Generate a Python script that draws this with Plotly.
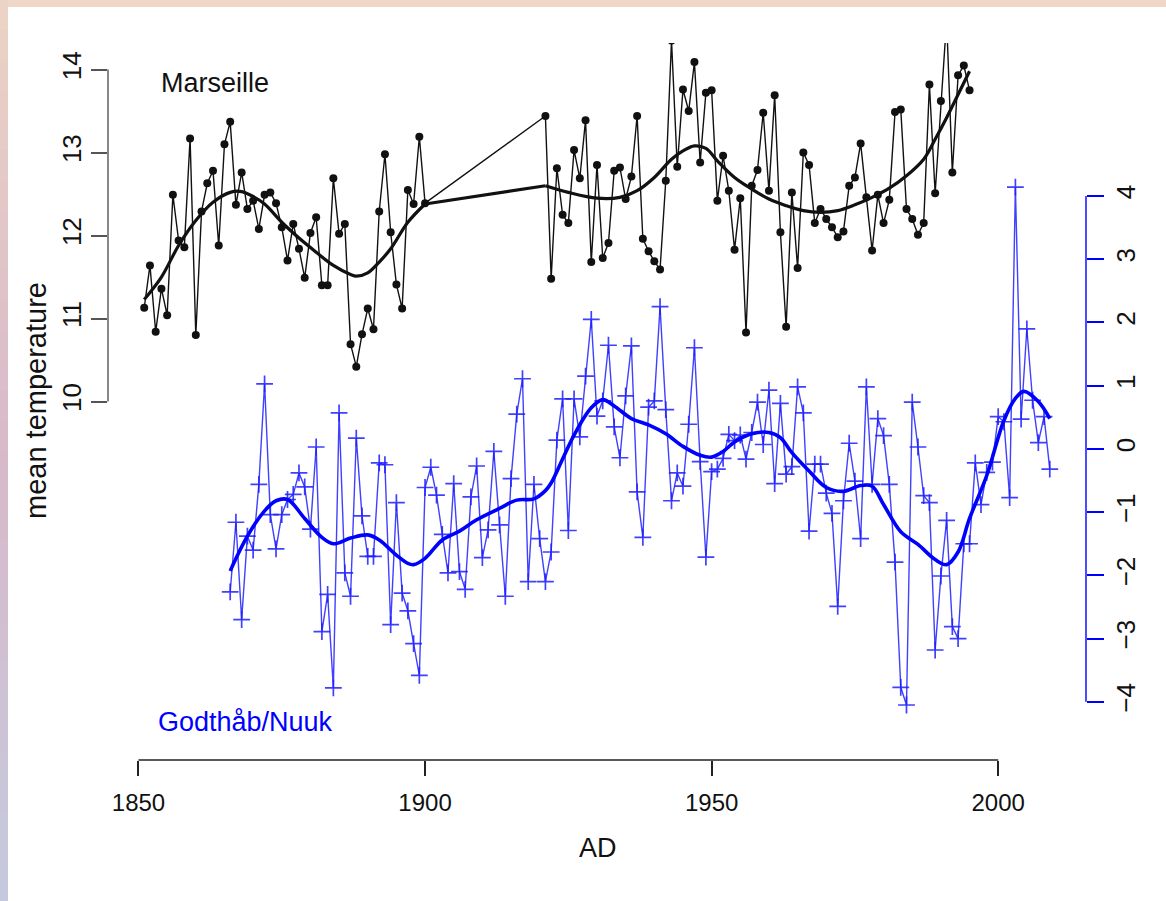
import plotly.graph_objects as go

# ---------------- data ----------------
mars_years_a = list(range(1851, 1901))
mars_vals_a = [11.13, 11.64, 10.84, 11.36, 11.04, 12.49, 11.94, 11.86, 13.17, 10.80,
               12.29, 12.63, 12.78, 11.88, 13.10, 13.37, 12.37, 12.76, 12.32, 12.42,
               12.08, 12.49, 12.52, 12.39, 12.10, 11.70, 12.14, 11.84, 11.49, 12.03,
               12.22, 11.40, 11.40, 12.69, 12.02, 12.14, 10.69, 10.42, 10.81, 11.12,
               10.87, 12.29, 12.98, 12.04, 11.41, 11.12, 12.55, 12.38, 13.19, 12.39]
mars_years_b = list(range(1921, 1996))
mars_vals_b = [13.44, 11.48, 12.81, 12.25, 12.15, 13.03, 12.69, 13.39, 11.68, 12.85,
               11.73, 11.91, 12.78, 12.82, 12.44, 12.71, 13.44, 11.96, 11.81, 11.69,
               11.59, 12.66, 14.35, 12.83, 13.76, 13.50, 14.09, 12.88, 13.72, 13.75,
               12.42, 12.96, 12.54, 11.83, 12.45, 10.83, 12.60, 12.79, 13.48, 12.54,
               13.69, 12.04, 10.90, 12.52, 11.61, 13.00, 12.85, 12.15, 12.32, 12.20,
               12.10, 11.98, 12.05, 12.60, 12.70, 13.11, 12.46, 11.82, 12.49, 12.15,
               12.43, 13.49, 13.52, 12.32, 12.20, 12.01, 12.15, 13.82, 12.51, 13.62,
               14.60, 12.76, 13.93, 14.05, 13.75]

mars_smooth_years_a = [1851, 1854, 1857, 1860, 1863, 1866, 1868, 1870, 1872, 1875, 1878,
                       1881, 1884, 1887, 1888, 1890, 1892, 1894, 1897, 1900]
mars_smooth_vals_a = [11.23, 11.50, 11.88, 12.18, 12.40, 12.52, 12.53, 12.47, 12.38, 12.16, 11.97,
                      11.80, 11.64, 11.53, 11.51, 11.55, 11.68, 11.84, 12.16, 12.38]
mars_smooth_years_b = [1921, 1925, 1930, 1934, 1937, 1940, 1943, 1945, 1947, 1949, 1951, 1954,
                       1957, 1960, 1963, 1966, 1969, 1972, 1975, 1978, 1981, 1984, 1987,
                       1989, 1991, 1993, 1995]
mars_smooth_vals_b = [12.60, 12.52, 12.45, 12.46, 12.54, 12.70, 12.92, 13.02, 13.08, 13.05, 12.90, 12.70,
                      12.56, 12.44, 12.36, 12.30, 12.28, 12.30, 12.37, 12.46, 12.57, 12.72, 12.92,
                      13.16, 13.42, 13.70, 13.98]

nuuk_years = list(range(1866, 2010))
nuuk_vals = [-2.26, -1.16, -2.70, -1.38, -1.60, -0.56, 1.03, -1.04, -1.58, -1.04,
             -0.80, -0.72, -0.38, -0.60, -1.27, 0.03, -2.89, -2.30, -3.78, 0.57,
             -1.96, -2.33, 0.17, -1.06, -1.70, -1.70, -0.22, -0.25, -2.78, -0.85,
             -2.28, -2.56, -3.08, -3.58, -0.61, -0.29, -0.73, -1.35, -1.96, -0.55,
             -1.94, -2.22, -0.76, -0.27, -1.72, -1.28, -0.04, -1.20, -2.33, -0.47,
             0.55, 1.11, -2.10, -0.56, -1.42, -2.10, -1.63, 0.14, 0.79, -1.29,
             0.79, 0.19, 1.15, 2.05, 0.52, 0.76, 1.64, 0.35, -0.14, 0.84,
             1.63, -0.68, -1.40, 0.66, 0.76, 2.25, 0.62, -0.82, -0.38, -0.59,
             0.39, 1.60, -0.20, -1.71, -0.36, -0.32, -0.15, 0.23, 0.13, 0.22,
             -0.16, 0.26, 0.74, 0.07, 0.93, -0.55, 0.72, -0.40, -0.28, 0.98,
             0.57, -1.30, -0.24, -0.24, -0.70, -1.02, -2.49, -0.82, 0.09, -0.51,
             -1.42, 0.98, -0.56, 0.48, 0.21, -0.56, -1.79, -3.77, -4.05, 0.74,
             0.03, -0.74, -0.85, -3.18, -2.01, -1.13, -2.81, -3.00, -1.50, -1.50,
             -0.22, -0.88, -0.37, -0.21, 0.51, 0.43, -0.77, 4.14, 0.47, 1.90,
             0.77, 0.10, 0.51, -0.32]

nuuk_smooth_years = [1866, 1869, 1872, 1874, 1876, 1879, 1882, 1884, 1887, 1890, 1892, 1895,
                     1897, 1898, 1900, 1903, 1906, 1909, 1913, 1916, 1919, 1921, 1922, 1924,
                     1926, 1929, 1931, 1933, 1936, 1939, 1942, 1945, 1948, 1950, 1952, 1954,
                     1957, 1960, 1962, 1964, 1967, 1970, 1973, 1976, 1978, 1980, 1983, 1986,
                     1989, 1991, 1993, 1995, 1998, 2001, 2003, 2004.5, 2007, 2009]
nuuk_smooth_vals = [-1.93, -1.38, -0.98, -0.82, -0.80, -1.10, -1.40, -1.50, -1.41, -1.36, -1.44, -1.68,
                    -1.81, -1.83, -1.73, -1.44, -1.30, -1.12, -0.94, -0.81, -0.79, -0.66, -0.54, -0.16,
                    0.22, 0.65, 0.78, 0.68, 0.48, 0.38, 0.24, 0.04, -0.10, -0.13, -0.04, 0.11,
                    0.24, 0.26, 0.18, -0.06, -0.35, -0.61, -0.67, -0.58, -0.59, -0.88, -1.31, -1.51,
                    -1.75, -1.83, -1.63, -1.10, -0.42, 0.45, 0.80, 0.91, 0.75, 0.48]

x_ticks = [1850, 1900, 1950, 2000]
left_ticks = [10, 11, 12, 13, 14]
right_ticks = [-4, -3, -2, -1, 0, 1, 2, 3, 4]

# ---------------- layout geometry ----------------
W, H = 1166, 901
L, R, T, B = 108, 80, 43, 141
PW, PH = W - L - R, H - T - B
FONT = "Liberation Sans, Arial, Helvetica, sans-serif"
BLUE = "#0000FF"


def px(xp):
    return (xp - L) / PW


def py(yp):
    return (H - B - yp) / PH


fig = go.Figure()

# Marseille raw series (connected straight across the gap)
fig.add_trace(go.Scatter(
    x=mars_years_a + mars_years_b, y=mars_vals_a + mars_vals_b,
    mode="lines+markers", line=dict(color="#111111", width=1.4),
    marker=dict(symbol="circle", size=8, color="#111111"),
    yaxis="y", showlegend=False, hoverinfo="skip"))

# Marseille smooth
fig.add_trace(go.Scatter(x=mars_smooth_years_a, y=mars_smooth_vals_a, mode="lines",
                         line=dict(color="#111111", width=3.2, shape="spline", smoothing=1.0),
                         yaxis="y", showlegend=False, hoverinfo="skip"))
fig.add_trace(go.Scatter(x=[mars_smooth_years_a[-1], mars_smooth_years_b[0]],
                         y=[mars_smooth_vals_a[-1], mars_smooth_vals_b[0]], mode="lines",
                         line=dict(color="#111111", width=3.2),
                         yaxis="y", showlegend=False, hoverinfo="skip"))
fig.add_trace(go.Scatter(x=mars_smooth_years_b, y=mars_smooth_vals_b, mode="lines",
                         line=dict(color="#111111", width=3.2, shape="spline", smoothing=1.0),
                         yaxis="y", showlegend=False, hoverinfo="skip"))

# Nuuk raw series
fig.add_trace(go.Scatter(
    x=nuuk_years, y=nuuk_vals, mode="lines+markers",
    line=dict(color="rgba(30,30,255,0.85)", width=1.4),
    marker=dict(symbol="cross-thin", size=12, line=dict(color="rgba(30,30,255,0.85)", width=1.7)),
    yaxis="y2", showlegend=False, hoverinfo="skip"))

# Nuuk smooth
fig.add_trace(go.Scatter(x=nuuk_smooth_years, y=nuuk_smooth_vals, mode="lines",
                         line=dict(color=BLUE, width=3.6, shape="spline", smoothing=1.0),
                         yaxis="y2", showlegend=False, hoverinfo="skip"))

shapes = []
# background border (gradient strips)
shapes.append(dict(type="rect", xref="paper", yref="paper", x0=px(0), x1=px(W), y0=py(7), y1=py(0),
                   fillcolor="#EFD6C7", line=dict(width=0), layer="below"))
top_c = (236, 212, 198)
mid_c = (216, 186, 202)
bot_c = (198, 202, 222)
n = 30
for i in range(n):
    t = (i + 0.5) / n
    if t < 0.5:
        u = t / 0.5
        c = [int(top_c[k] + (mid_c[k] - top_c[k]) * u) for k in range(3)]
    else:
        u = (t - 0.5) / 0.5
        c = [int(mid_c[k] + (bot_c[k] - mid_c[k]) * u) for k in range(3)]
    y0p = H * i / n
    y1p = H * (i + 1) / n + 1
    shapes.append(dict(type="rect", xref="paper", yref="paper", x0=px(0), x1=px(8),
                       y0=py(y1p), y1=py(y0p), fillcolor="rgb(%d,%d,%d)" % tuple(c),
                       line=dict(width=0), layer="below"))

# R-style axis lines spanning the ticks only
shapes.append(dict(type="line", xref="x", yref="paper", x0=x_ticks[0], x1=x_ticks[-1], y0=0, y1=0,
                   line=dict(color="#222222", width=1.6)))
shapes.append(dict(type="line", xref="paper", yref="y", x0=0, x1=0, y0=left_ticks[0], y1=left_ticks[-1],
                   line=dict(color="#555555", width=1.4)))
shapes.append(dict(type="line", xref="paper", yref="y2", x0=1, x1=1, y0=right_ticks[0], y1=right_ticks[-1],
                   line=dict(color=BLUE, width=1.4)))

annotations = [
    dict(text="Marseille", x=px(159), y=py(83), xref="paper", yref="paper", xanchor="left",
         yanchor="middle", showarrow=False, font=dict(family=FONT, size=27, color="#111111")),
    dict(text="Godthåb/Nuuk", x=px(156), y=py(722), xref="paper", yref="paper", xanchor="left",
         yanchor="middle", showarrow=False, font=dict(family=FONT, size=27, color=BLUE)),
    dict(text="AD", x=px(598), y=py(848), xref="paper", yref="paper", xanchor="center",
         yanchor="middle", showarrow=False, font=dict(family=FONT, size=27, color="#111111")),
    dict(text="mean temperature", x=px(36), y=py(401), xref="paper", yref="paper", xanchor="center",
         yanchor="middle", textangle=-90, showarrow=False, font=dict(family=FONT, size=29, color="#111111")),
]

fig.update_layout(
    width=W, height=H, autosize=False,
    margin=dict(l=L, r=R, t=T, b=B, pad=0),
    paper_bgcolor="white", plot_bgcolor="white",
    font=dict(family=FONT, size=22, color="#111111"),
    shapes=shapes, annotations=annotations,
    xaxis=dict(range=[1844.68, 2015.32], tickvals=x_ticks, ticks="outside", ticklen=15, tickwidth=1.5,
               tickcolor="#222222", showgrid=False, zeroline=False, showline=False,
               ticklabelstandoff=6,
               tickfont=dict(family=FONT, size=24, color="#111111")),
    yaxis=dict(range=[5.68, 14.32], tickvals=left_ticks, ticks="outside", ticklen=16, tickwidth=1.5,
               tickcolor="#555555", showgrid=False, zeroline=False, showline=False, tickangle=-90,
               tickfont=dict(family=FONT, size=26, color="#111111")),
    yaxis2=dict(range=[-4.92, 6.42], tickvals=right_ticks, ticks="outside", ticklen=17, tickwidth=1.5,
                tickcolor=BLUE, showgrid=False, zeroline=False, showline=False, tickangle=-90,
                overlaying="y", side="right", anchor="x",
                tickfont=dict(family=FONT, size=26, color="#111111")),
)

fig.write_html("out.html")
